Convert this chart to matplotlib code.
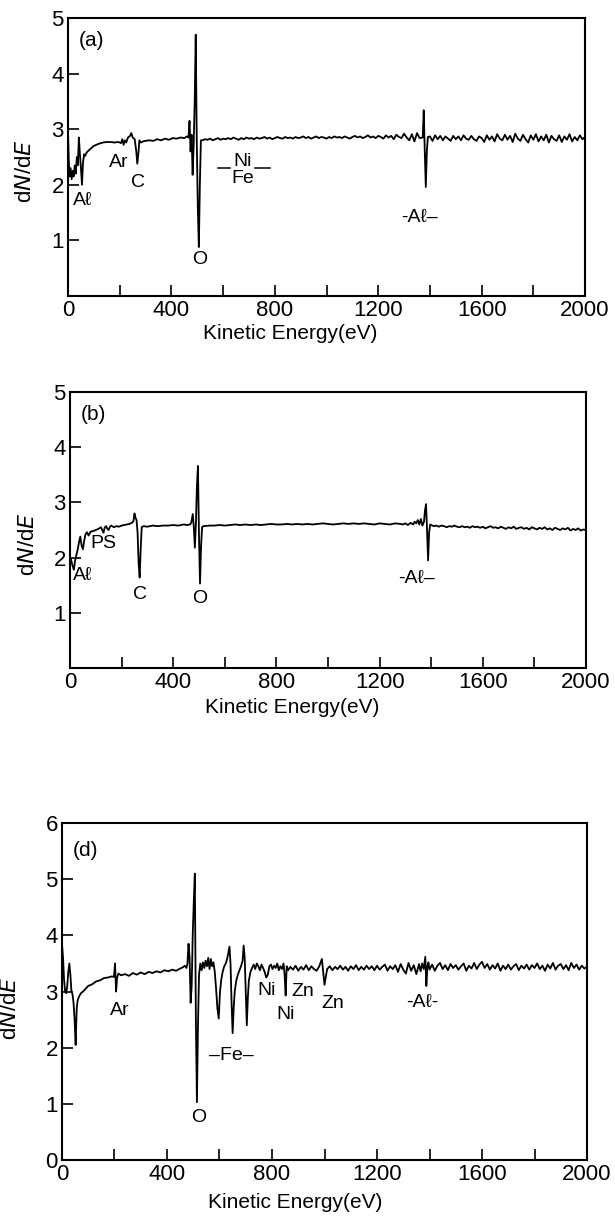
import numpy as np
import matplotlib
matplotlib.use("Agg")
import matplotlib.pyplot as plt

plt.rcParams['font.family'] = ['Liberation Sans', 'DejaVu Sans']

# ---- panel (a) ----
E_a = [0, 3, 6, 10, 14, 18, 22, 26, 30, 34,
       38, 42, 46, 50, 54, 58, 62, 66, 72, 80,
       90, 100, 110, 120, 135, 150, 165, 180, 195, 205,
       210, 215, 220, 225, 232, 240, 245, 250, 258, 264,
       268, 272, 276, 282, 290, 300, 315, 330, 345, 360,
       375, 390, 405, 420, 435, 450, 460, 466, 470, 474,
       478, 482, 486, 490, 494, 498, 502, 506, 510, 514] \
    + list(range(520, 1370, 10)) + [1372, 1376, 1380, 1384, 1388, 1392] \
    + list(range(1400, 2001, 10))
N_a = [2.95, 2.45, 2.15, 2.30, 2.10, 2.25, 2.15, 2.35, 2.20, 2.50,
       2.35, 2.85, 2.55, 2.30, 2.00, 2.40, 2.55, 2.52, 2.58, 2.62,
       2.66, 2.70, 2.72, 2.74, 2.76, 2.77, 2.77, 2.76, 2.77, 2.75,
       2.82, 2.72, 2.80, 2.76, 2.85, 2.88, 2.93, 2.85, 2.82, 2.60,
       2.38, 2.55, 2.80, 2.76, 2.78, 2.79, 2.80, 2.79, 2.82, 2.80,
       2.83, 2.81, 2.84, 2.83, 2.85, 2.84, 2.87, 2.85, 3.15, 2.60,
       2.90, 2.18, 2.70, 3.50, 4.70, 2.80, 1.60, 0.88, 2.00, 2.80,
       # 520 - 1360
       2.80, 2.82, 2.81, 2.83, 2.80, 2.82, 2.84, 2.81, 2.83, 2.82,
       2.84, 2.82, 2.85, 2.83, 2.81, 2.84, 2.82, 2.85, 2.83, 2.84,
       2.82, 2.85, 2.83, 2.84, 2.86, 2.83, 2.85, 2.82, 2.84, 2.86,
       2.84, 2.83, 2.86, 2.84, 2.85, 2.83, 2.86, 2.84, 2.85, 2.87,
       2.84, 2.86, 2.83, 2.85, 2.87, 2.84, 2.86, 2.85, 2.83, 2.86,
       2.84, 2.87, 2.85, 2.86, 2.84, 2.87, 2.85, 2.83, 2.86, 2.88,
       2.85, 2.87, 2.84, 2.86, 2.89, 2.85, 2.87, 2.84, 2.88, 2.86,
       2.83, 2.89, 2.85, 2.88, 2.82, 2.90, 2.86, 2.84, 2.92, 2.85,
       2.80, 2.91, 2.78, 2.93, 2.84,
       # Al
       2.85, 3.34, 2.60, 1.96, 2.60, 2.86,
       # 1400 - 2000
       2.87, 2.79, 2.89, 2.82, 2.88, 2.80, 2.87, 2.83, 2.79, 2.88,
       2.82, 2.87, 2.80, 2.89, 2.83, 2.81, 2.88, 2.82, 2.79, 2.87,
       2.84, 2.77, 2.89, 2.81, 2.87, 2.78, 2.91, 2.83, 2.80, 2.90,
       2.81, 2.88, 2.77, 2.92, 2.83, 2.79, 2.90, 2.82, 2.76, 2.89,
       2.81, 2.91, 2.78, 2.87, 2.80, 2.90, 2.76, 2.88, 2.82, 2.79,
       2.89, 2.77, 2.87, 2.81, 2.91, 2.78, 2.86, 2.80, 2.89, 2.82,
       2.86]

# ---- panel (b) ----
E_b = [0, 5, 10, 15, 20, 25, 30, 35, 40, 45,
       50, 55, 60, 66, 72, 80, 90, 100, 110, 120,
       125, 130, 135, 140, 145, 150, 155, 160, 170, 180,
       190, 200, 210, 220, 230, 240, 246, 250, 254, 258,
       262, 266, 270, 274, 278, 285, 300, 320, 340, 360,
       380, 400, 420, 440, 455, 465, 470, 476, 480, 484,
       488, 492, 496, 500, 504, 508, 512, 516] \
    + list(range(520, 1290, 20)) \
    + [1290, 1300, 1310, 1320, 1330, 1336, 1342, 1348, 1354, 1360,
       1366, 1372, 1376, 1380, 1384, 1388, 1392, 1396] \
    + list(range(1400, 2001, 10))
N_b = [2.02, 1.95, 1.85, 1.78, 1.95, 2.05, 2.15, 2.28, 2.38, 2.22,
       2.15, 2.30, 2.42, 2.46, 2.40, 2.47, 2.48, 2.50, 2.52, 2.55,
       2.50, 2.45, 2.55, 2.57, 2.52, 2.50, 2.56, 2.58, 2.55, 2.57,
       2.56, 2.58, 2.59, 2.60, 2.61, 2.63, 2.66, 2.80, 2.72, 2.68,
       2.45, 1.90, 1.64, 2.15, 2.55, 2.57, 2.56, 2.58, 2.57, 2.58,
       2.58, 2.59, 2.58, 2.60, 2.59, 2.60, 2.63, 2.79, 2.55, 2.18,
       2.60, 3.30, 3.66, 2.40, 1.53, 2.20, 2.55, 2.57,
       # 520 - 1280
       2.57, 2.58, 2.58, 2.59, 2.58, 2.59, 2.60, 2.59, 2.60, 2.59,
       2.60, 2.59, 2.60, 2.61, 2.60, 2.60, 2.61, 2.60, 2.61, 2.60,
       2.61, 2.60, 2.61, 2.62, 2.61, 2.60, 2.61, 2.62, 2.61, 2.62,
       2.61, 2.62, 2.61, 2.60, 2.62, 2.61, 2.60, 2.62, 2.61,
       # Al
       2.60, 2.62, 2.59, 2.63, 2.60, 2.65, 2.62, 2.68, 2.60, 2.70,
       2.58, 2.65, 2.85, 2.97, 2.50, 1.95, 2.45, 2.60,
       # 1400 - 2000
       2.59, 2.57, 2.58, 2.56, 2.58, 2.57, 2.55, 2.57, 2.56, 2.58,
       2.56, 2.55, 2.57, 2.55, 2.56, 2.54, 2.57, 2.55, 2.56, 2.54,
       2.56, 2.53, 2.55, 2.57, 2.54, 2.55, 2.53, 2.56, 2.54, 2.52,
       2.55, 2.53, 2.56, 2.52, 2.54, 2.55, 2.52, 2.54, 2.51, 2.55,
       2.53, 2.51, 2.54, 2.52, 2.55, 2.51, 2.53, 2.50, 2.54, 2.52,
       2.50, 2.53, 2.51, 2.54, 2.49, 2.52, 2.50, 2.53, 2.49, 2.51,
       2.50]

# ---- panel (d) ----
E_d = [0, 4, 8, 12, 16, 20, 24, 28, 32, 36,
       40, 44, 48, 52, 56, 60, 66, 72, 80, 90,
       100, 115, 130, 145, 160, 175, 190, 198, 202, 206,
       210, 215, 225, 240, 255, 270, 285, 300, 315, 330,
       345, 360, 375, 390, 405, 420, 435, 450, 460, 468,
       474, 478, 482, 486, 490, 494, 498, 502, 506, 510,
       514, 518, 522, 527, 532, 537, 542, 547, 552, 557,
       562, 567, 572, 577, 582, 587, 592, 597, 602, 607,
       612, 618, 624, 630, 634, 638, 642, 646, 650, 654,
       658, 664, 670, 676, 682, 688, 692, 696, 700, 704,
       708, 712, 718, 724, 730, 736, 742, 748, 754, 760,
       766, 772, 778, 784, 790, 796, 802, 808, 814, 820,
       826, 832, 838, 844, 848, 852, 856, 862, 870] \
    + list(range(880, 1370, 10)) + [1366, 1372, 1378, 1384, 1388, 1392, 1396] \
    + list(range(1400, 2001, 10))
N_d = [3.85, 3.60, 3.20, 3.00, 2.97, 3.10, 3.35, 3.50, 3.30, 3.00,
       2.95, 2.80, 2.50, 2.05, 2.70, 2.85, 2.92, 2.97, 3.00, 3.05,
       3.10, 3.13, 3.18, 3.20, 3.24, 3.25, 3.27, 3.26, 3.50, 3.00,
       3.25, 3.32, 3.29, 3.31, 3.28, 3.33, 3.30, 3.34, 3.31, 3.35,
       3.33, 3.36, 3.34, 3.38, 3.36, 3.39, 3.37, 3.41, 3.43, 3.46,
       3.42, 3.50, 3.85, 3.60, 2.80, 3.10, 4.00, 4.60, 5.10, 2.50,
       1.03, 2.40, 3.30, 3.50, 3.38, 3.52, 3.42, 3.55, 3.45, 3.60,
       3.40, 3.58, 3.45, 3.52, 3.35, 3.05, 2.70, 2.52, 3.00, 3.22,
       3.35, 3.45, 3.50, 3.60, 3.70, 3.80, 3.50, 2.80, 2.26, 2.70,
       3.00, 3.20, 3.30, 3.38, 3.45, 3.55, 3.82, 3.60, 3.00, 2.40,
       2.90, 3.20, 3.35, 3.42, 3.48, 3.40, 3.50, 3.45, 3.38, 3.48,
       3.42, 3.35, 3.25, 3.30, 3.45, 3.48, 3.40, 3.46, 3.42, 3.50,
       3.38, 3.45, 3.40, 3.50, 3.30, 2.93, 3.45, 3.38, 3.44,
       # 880 - 1360
       3.39, 3.46, 3.37, 3.44, 3.39, 3.47, 3.38, 3.45, 3.40, 3.37,
       3.45, 3.58, 3.12, 3.40, 3.45, 3.38, 3.44, 3.40, 3.46, 3.39,
       3.44, 3.37, 3.45, 3.40, 3.47, 3.38, 3.44, 3.39, 3.46, 3.40,
       3.45, 3.38, 3.46, 3.39, 3.44, 3.48, 3.37, 3.45, 3.40, 3.47,
       3.35, 3.49, 3.39, 3.32, 3.51, 3.37, 3.47, 3.31, 3.49,
       # Al
       3.36, 3.50, 3.40, 3.62, 3.10, 3.45, 3.52,
       # 1400 - 2000
       3.39, 3.48, 3.37, 3.46, 3.51, 3.40, 3.47, 3.38, 3.49, 3.42,
       3.47, 3.39, 3.45, 3.50, 3.37, 3.46, 3.41, 3.51, 3.40, 3.48,
       3.53, 3.42, 3.49, 3.39, 3.47, 3.41, 3.50, 3.37, 3.46, 3.40,
       3.48, 3.39, 3.45, 3.49, 3.38, 3.46, 3.41, 3.48, 3.39, 3.47,
       3.42, 3.50, 3.40, 3.46, 3.37, 3.48, 3.41, 3.51, 3.39, 3.46,
       3.49, 3.40, 3.47, 3.38, 3.51, 3.42, 3.48, 3.39, 3.46, 3.41,
       3.44]

# peak labels (text, energy, dN/dE)
labels_a = [("Aℓ", 58, 1.72), ("Ar", 195, 2.40), ("C", 270, 2.05), ("O", 508, 0.66),
            ("Ni", 677, 2.42), ("Fe", 677, 2.12), ("-Aℓ–", 1358, 1.42)]
labels_b = [("Aℓ", 50, 1.68), ("PS", 129, 2.25), ("C", 271, 1.33), ("O", 504, 1.26),
            ("-Aℓ–", 1345, 1.62)]
labels_d = [("Ar", 221, 2.67), ("O", 519, 0.75), ("–Fe–", 647, 1.87),
            ("Ni", 781, 3.02), ("Ni", 853, 2.60), ("Zn", 917, 3.00), ("Zn", 1030, 2.79),
            ("-Aℓ-", 1372, 2.81)]

fig = plt.figure(figsize=(6.15, 12.17), dpi=100)
ax_a = fig.add_axes([0.1106, 0.7568, 0.8407, 0.2284])
ax_b = fig.add_axes([0.1138, 0.4511, 0.8390, 0.2268])
ax_d = fig.add_axes([0.1008, 0.0468, 0.8537, 0.2769])


def setup(ax, E, N, ymax, tag, labels, ylab_x, xlab_xy):
    ax.plot(E, N, color='black', lw=1.3)
    ax.set_xlim(0, 2000)
    ax.set_ylim(0, ymax)
    ax.set_xticks(range(0, 2001, 200))
    ax.set_xticklabels([str(v) if v % 400 == 0 else '' for v in range(0, 2001, 200)])
    yt = list(range(0, ymax + 1))
    ax.set_yticks(yt)
    ax.set_yticklabels(['' if (v == 0 and ymax == 5) else str(v) for v in yt])
    ax.tick_params(direction='in', length=8, width=1.2, labelsize=16,
                   top=False, right=False)
    ax.tick_params(axis='x', pad=3)
    ax.tick_params(axis='y', pad=3)
    for s in ax.spines.values():
        s.set_linewidth(1.5)
    ax.set_ylabel('d$N$/d$E$', fontsize=16)
    ax.yaxis.set_label_coords(ylab_x, 0.45)
    ax.set_xlabel('Kinetic Energy(eV)', fontsize=15)
    ax.xaxis.set_label_coords(*xlab_xy)
    ax.xaxis.label.set_va('center')
    ax.text(0.02, 0.92, tag, transform=ax.transAxes, fontsize=15, va='center', ha='left')
    for t, x, y in labels:
        ax.text(x, y, t, fontsize=14, ha='center', va='center')


setup(ax_a, E_a, N_a, 5, '(a)', labels_a, -0.062, (0.43, -0.135))
setup(ax_b, E_b, N_b, 5, '(b)', labels_b, -0.060, (0.43, -0.143))
setup(ax_d, E_d, N_d, 6, '(d)', labels_d, -0.078, (0.444, -0.125))

# the bars around Ni/Fe in (a)
ax_a.plot([580, 627], [2.30, 2.30], color='black', lw=1.1)
ax_a.plot([722, 781], [2.30, 2.30], color='black', lw=1.1)

fig.savefig('out.png', dpi=100)
